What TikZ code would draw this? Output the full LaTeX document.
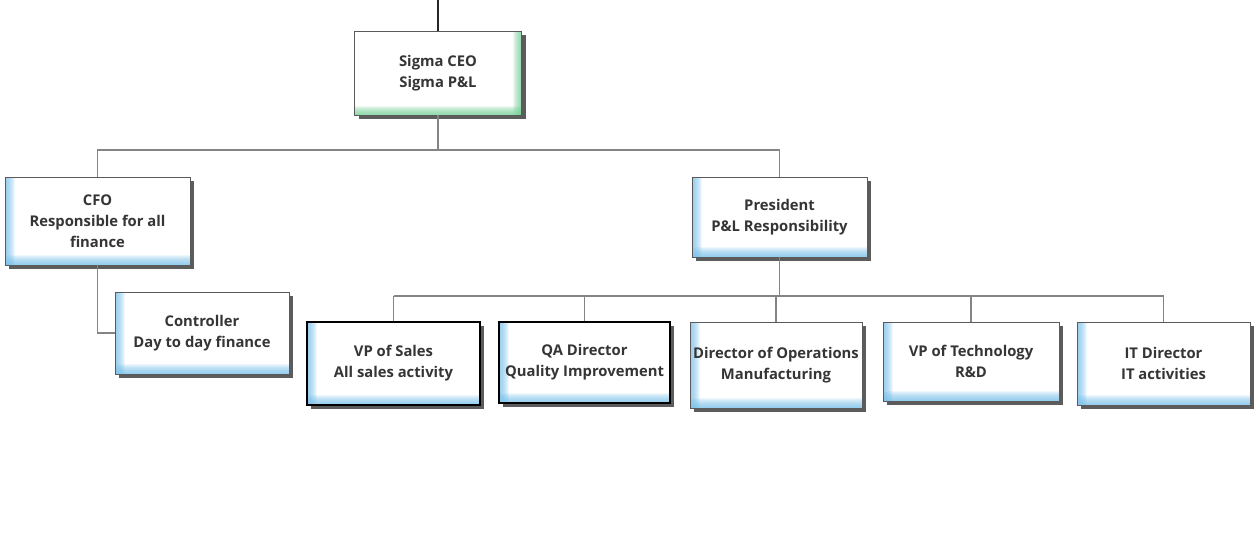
\documentclass[tikz,border=0pt]{standalone}
\usepackage{fontspec}
\setmainfont{Open Sans}
\usetikzlibrary{shadows}
\definecolor{glow}{HTML}{7CC3EC}
\definecolor{gglow}{HTML}{6FD093}
\definecolor{txt}{HTML}{353535}
\definecolor{bord}{HTML}{5A5A5A}
\definecolor{conncol}{HTML}{858585}
\tikzset{
  box/.style={draw=bord, line width=0.8pt, fill=white, align=center, text=txt,
    font=\bfseries\fontsize{14.8}{21}\selectfont, inner sep=1pt,
    drop shadow={shadow xshift=4pt, shadow yshift=-4pt, fill=black!75, opacity=0.85},
    path picture={
      \foreach \i in {1,...,10} {
        \fill[glow, opacity=0.13] (path picture bounding box.south west) rectangle ([xshift=\i pt]path picture bounding box.north west);
        \fill[glow, opacity=0.13] (path picture bounding box.south west) rectangle ([yshift=\i pt]path picture bounding box.south east);
      }
    }},
  darkbox/.style={box, draw=black, line width=1.3pt},
  greenbox/.style={box,
    path picture={
      \foreach \i in {1,...,9} {
        \fill[gglow, opacity=0.13] (path picture bounding box.south east) rectangle ([xshift=-\i pt]path picture bounding box.north east);
        \fill[gglow, opacity=0.13] (path picture bounding box.south west) rectangle ([yshift=\i pt]path picture bounding box.south east);
      }
    }},
  conn/.style={draw=conncol, line width=1.4pt},
}
\begin{document}
\begin{tikzpicture}[x=1pt,y=-1pt]
\useasboundingbox (0,0) rectangle (1255,544);
\node[greenbox, minimum width=167pt, minimum height=84pt] (ceo) at (438,73) {Sigma CEO\\Sigma P\&L};
\node[box, minimum width=185pt, minimum height=88pt] (cfo) at (97.5,221) {CFO\\Responsible for all\\finance};
\node[box, minimum width=174pt, minimum height=82pt] (ctrl) at (202,333) {Controller\\Day to day finance};
\node[box, minimum width=175pt, minimum height=80pt] (pres) at (779.5,217) {President\\P\&L Responsibility};
\node[darkbox, minimum width=173pt, minimum height=83pt] (sales) at (393.5,363.5) {VP of Sales\\All sales activity};
\node[darkbox, minimum width=171pt, minimum height=81pt] (qa) at (584.5,362.5) {QA Director\\Quality Improvement};
\node[box, minimum width=172pt, minimum height=86pt] (ops) at (776,365) {Director of Operations\\Manufacturing};
\node[box, minimum width=176pt, minimum height=79pt] (tech) at (971,361.5) {VP of Technology\\R\&D};
\node[box, minimum width=173pt, minimum height=83pt] (it) at (1163.5,363.5) {IT Director\\IT activities};
\coordinate (top) at (438,0);
\coordinate (j1) at (438,150);
\coordinate (j2) at (779.5,296);
\draw[line width=2pt, black!85] (top) -- (ceo.north);
\draw[conn] (ceo.south) -- (j1);
\draw[conn] (cfo.north) -- (cfo.north |- j1) -- (pres.north |- j1) -- (pres.north);
\draw[conn] (cfo.south) |- (ctrl.west);
\draw[conn] (pres.south) -- (j2);
\draw[conn] (sales.north |- j2) -- (it.north |- j2);
\foreach \n in {sales,qa,ops,tech,it} \draw[conn] (\n.north) -- (\n.north |- j2);
\end{tikzpicture}
\end{document}
